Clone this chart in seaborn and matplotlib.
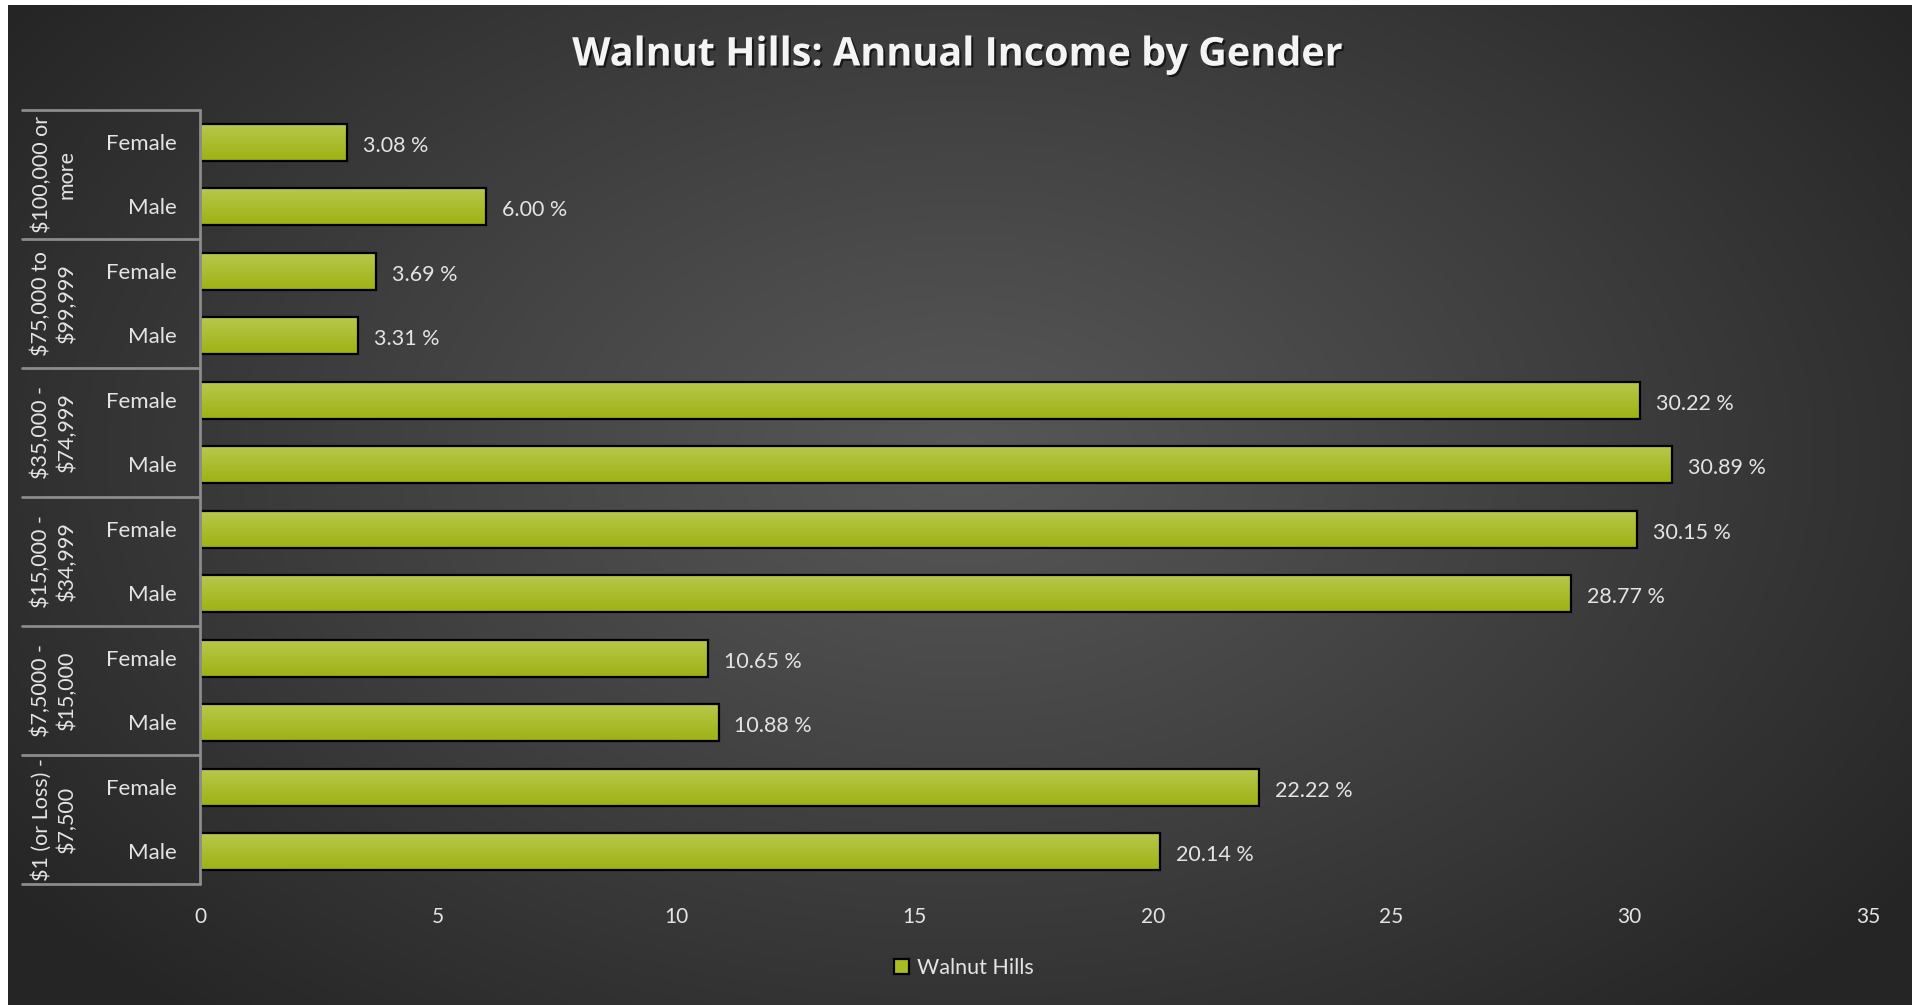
import numpy as np
import pandas as pd
import matplotlib
matplotlib.use("Agg")
import matplotlib.pyplot as plt
import matplotlib.patheffects as pe
from matplotlib.patches import Patch
import seaborn as sns

# ---------------- data ----------------
groups = ["$100,000 or\nmore", "$75,000 to\n$99,999", "$35,000 -\n$74,999",
          "$15,000 -\n$34,999", "$7,5000 -\n$15,000", "$1 (or Loss) -\n$7,500"]
genders = ["Female", "Male"]
values = [3.08, 6.00, 3.69, 3.31, 30.22, 30.89, 30.15, 28.77, 10.65, 10.88, 22.22, 20.14]
x_ticks = [0, 5, 10, 15, 20, 25, 30, 35]
series_name = "Walnut Hills"
title = "Walnut Hills: Annual Income by Gender"

rows = []
for gi, g in enumerate(groups):
    for si, s in enumerate(genders):
        rows.append({"key": f"{gi}-{s}", "group": g, "gender": s,
                     "value": values[gi * 2 + si]})
df = pd.DataFrame(rows)

sns.set_theme(style="white")
plt.rcParams["font.family"] = ["Lato", "DejaVu Sans"]

W, H = 1921, 1005
fig = plt.figure(figsize=(W / 100, H / 100), dpi=100, facecolor="white")

# background with radial gradient
bg = fig.add_axes([8 / W, 0, 1904 / W, 1000 / H], zorder=0)
ny, nx = 500, 950
yy, xx = np.mgrid[0:ny, 0:nx]
r = np.sqrt(((xx - nx * 0.5) / (nx * 0.62)) ** 2 + ((yy - ny * 0.45) / (ny * 0.75)) ** 2)
r = np.clip(r, 0, 1)
c0, c1 = 0x57 / 255, 0x25 / 255
shade = c0 + (c1 - c0) * r ** 1.1
bg.imshow(np.dstack([shade, shade, shade]), aspect="auto", extent=[0, 1, 0, 1], origin="upper")
bg.set_axis_off()

# main axes
L, R, T, B = 200, 1868, 110, 884
ax = fig.add_axes([L / W, 1 - B / H, (R - L) / W, (B - T) / H], zorder=2)
ax.set_facecolor("none")
sns.barplot(data=df, y="key", x="value", orient="h", color="#a9bd22",
            width=0.574, edgecolor="black", linewidth=1.6, ax=ax)

ax.set_xlim(0, 35)
ax.set_ylim(11.5, -0.5)

# gradient fill on bars
grad = np.linspace(0, 1, 64).reshape(-1, 1)
top = np.array([0xb8, 0xc8, 0x4e]) / 255
bot = np.array([0x9e, 0xb2, 0x12]) / 255
gimg = top[None, None, :] * (1 - grad[:, :, None]) + bot[None, None, :] * grad[:, :, None]
for p in list(ax.patches):
    x0, y0 = p.get_x(), p.get_y()
    w, h = p.get_width(), p.get_height()
    im = ax.imshow(gimg, extent=[x0, x0 + w, y0 + h, y0], aspect="auto",
                   origin="upper", zorder=2, interpolation="bilinear")
    im.set_clip_path(p)
    p.set_facecolor("none")
    p.set_zorder(3)
ax.set_xlim(0, 35)
ax.set_ylim(11.5, -0.5)
ax.set_aspect("auto")

for s in ax.spines.values():
    s.set_visible(False)

txt_col = "#e4e4e4"
ax.set_xticks(x_ticks)
ax.set_xticklabels([str(t) for t in x_ticks])
ax.tick_params(axis="x", length=0, pad=16.5, labelsize=15, labelcolor=txt_col)
ax.set_yticks([])
ax.set_xlabel("")
ax.set_ylabel("")

# category axis lines
line_col = "#8c8c8c"
ax.plot([0, 0], [-0.5, 11.5], color=line_col, lw=2, clip_on=False, zorder=5)
xl = (22 - L) / (R - L)
for b in np.arange(-0.5, 12, 2):
    ax.plot([xl, 0], [b, b], transform=ax.get_yaxis_transform(), color=line_col,
            lw=2, clip_on=False, zorder=5)

# gender labels & group labels
xg = (177 - L) / (R - L)
xgrp = (54 - L) / (R - L)
for gi, g in enumerate(groups):
    for si, s in enumerate(genders):
        ax.annotate(s, (xg, gi * 2 + si), xycoords=ax.get_yaxis_transform(),
                    xytext=(0, -1), textcoords="offset points",
                    ha="right", va="center", fontsize=16, color=txt_col)
    ax.text(xgrp, gi * 2 + 0.5, g, transform=ax.get_yaxis_transform(),
            ha="center", va="center", rotation=90, fontsize=15.5, color=txt_col,
            multialignment="center", linespacing=1.3)

# data labels
for i, v in enumerate(values):
    ax.annotate(f"{v:.2f} %", (v, i), xytext=(11.5, -2.5), textcoords="offset points",
                ha="left", va="center", fontsize=15.5, color=txt_col)

# title
fig.text(958 / W, 1 - 55 / H, title, ha="center", va="center", fontsize=28.5,
         fontweight="bold", color="#f4f4f4", family=["Open Sans", "DejaVu Sans"],
         path_effects=[pe.withSimplePatchShadow(offset=(1.5, -1.5), alpha=0.6, shadow_rgbFace="black")])

# legend
handle = Patch(facecolor="#a9bd22", edgecolor="black", linewidth=1.6)
fig.legend([handle], [series_name], loc="center", bbox_to_anchor=(964 / W, 1 - 968 / H),
           frameon=False, fontsize=15.5, labelcolor=txt_col, handlelength=0.7,
           handleheight=0.7, handletextpad=0.4)

fig.savefig("out.png", dpi=100, facecolor="white")
